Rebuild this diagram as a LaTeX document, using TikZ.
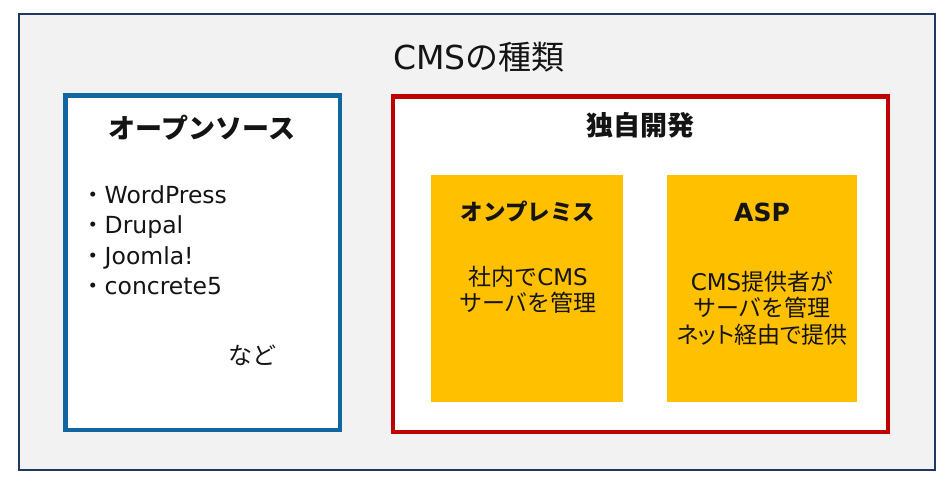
\documentclass[tikz,border=0pt]{standalone}
\usepackage{fontspec}
\setmainfont{Noto Sans CJK JP}
\newfontfamily\latin{DejaVu Sans}
\newfontfamily\jpprop[RawFeature=+palt]{Noto Sans CJK JP}
\usepackage{tikz}
\definecolor{framenavy}{RGB}{31,56,100}
\definecolor{panelgray}{RGB}{242,242,242}
\definecolor{ossblue}{RGB}{18,102,160}
\definecolor{ownred}{RGB}{192,0,0}
\definecolor{typeyellow}{RGB}{255,192,0}
\definecolor{textblack}{RGB}{20,20,20}

\begin{document}
\begin{tikzpicture}[x=1pt, y=-1pt,
  outerframe/.style={draw=framenavy, line width=2pt, fill=panelgray},
  ossbox/.style={draw=ossblue, line width=4.5pt, fill=white},
  ownbox/.style={draw=ownred, line width=4.5pt, fill=white},
  typebox/.style={fill=typeyellow},
  label/.style={inner sep=0pt, text=textblack},
  heading/.style={label, font=\bfseries\fontsize{27}{32}\selectfont},
  subheading/.style={label, font=\bfseries\fontsize{22.5}{27}\selectfont},
  item/.style={label, anchor=base west, font=\fontsize{23.5}{28}\selectfont},
  body/.style={label, align=center, font=\fontsize{23}{26.5}\selectfont}]
  \useasboundingbox (0,0) rectangle (950,482);
  \draw[outerframe] (19,14) rectangle (935,470);
  \draw (479,57) node[label, font=\fontsize{33}{38}\selectfont] (title) {{\latin CMS}の種類};
  % open source
  \draw[ossbox] (65.5,95.5) rectangle (340,430);
  \draw (202,128) node[heading] (oss) {オープンソース};
  \draw (81,203) node[item] (wp) {・{\latin WordPress}};
  \draw (81,233.5) node[item] (drupal) {・{\latin Drupal}};
  \draw (81,264) node[item] (joomla) {・{\latin Joomla!}};
  \draw (81,294.5) node[item] (concrete) {・{\latin concrete5}};
  \draw (252,355) node[label, font=\fontsize{24}{28}\selectfont] (etc) {など};
  % own development
  \draw[ownbox] (393,96.5) rectangle (888,432);
  \draw (640,125) node[heading] (own) {独自開発};
  \fill[typebox] (431,175) rectangle (623,402);
  \fill[typebox] (667,175) rectangle (857,402);
  \draw (528,212) node[subheading] (onprem) {オンプレミス};
  \draw (762,212) node[label, font=\latin\bfseries\fontsize{25}{30}\selectfont] (asp) {ASP};
  \draw (528,290) node[body] (onpremtext) {社内で{\latin CMS}\\サーバを管理};
  \draw (762,308) node[body] (asptext) {{\latin CMS}提供者が\\サーバを管理\\{\jpprop ネット経由で提供}};
\end{tikzpicture}
\end{document}
